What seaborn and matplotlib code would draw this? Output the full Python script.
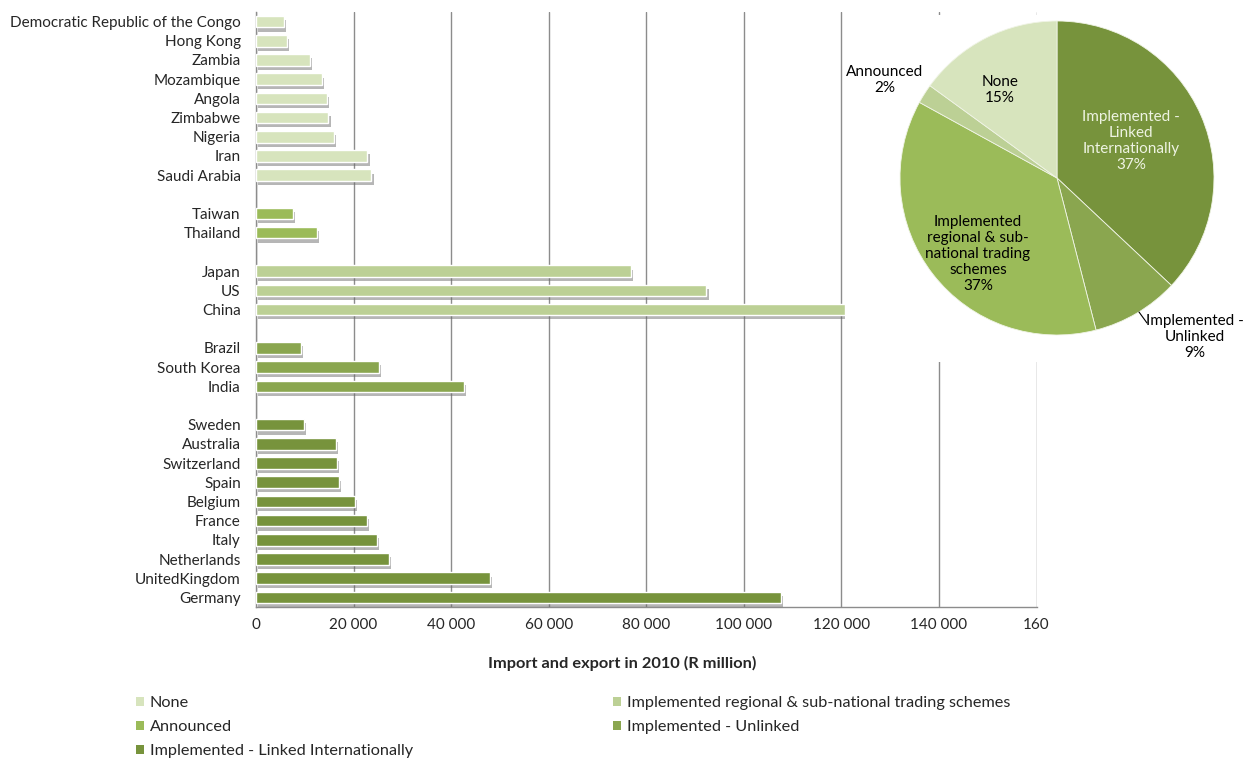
import numpy as np
import pandas as pd
import matplotlib
matplotlib.use("Agg")
import matplotlib.pyplot as plt
import matplotlib.patheffects as pe
from matplotlib.patches import Patch
from matplotlib.ticker import FixedLocator
import seaborn as sns

# ---- data -------------------------------------------------------------
none_countries = ["Democratic Republic of the Congo", "Hong Kong", "Zambia", "Mozambique",
                  "Angola", "Zimbabwe", "Nigeria", "Iran", "Saudi Arabia"]
none_values = [5800, 6430, 11150, 13600, 14500, 14850, 16000, 22850, 23670]

announced_countries = ["Taiwan", "Thailand"]
announced_values = [7570, 12500]

regional_countries = ["Japan", "US", "China"]
regional_values = [76850, 92340, 120770]

unlinked_countries = ["Brazil", "South Korea", "India"]
unlinked_values = [9190, 25280, 42640]

linked_countries = ["Sweden", "Australia", "Switzerland", "Spain", "Belgium", "France",
                    "Italy", "Netherlands", "UnitedKingdom", "Germany"]
linked_values = [9880, 16470, 16630, 17100, 20240, 22820, 24780, 27220, 47920, 107610]

status_names = ["None", "Implemented regional & sub-national trading schemes", "Announced",
                "Implemented - Unlinked", "Implemented - Linked Internationally"]
status_colors = ["#D7E4BD", "#BCD095", "#9BBB59", "#8AA64F", "#77933C"]

pie_labels = ["Implemented -\nLinked\nInternationally", "Implemented -\nUnlinked",
              "Implemented\nregional & sub-\nnational trading\nschemes", "Announced", "None"]
pie_shares = [37, 9, 37, 2, 15]
pie_colors = ["#77933C", "#8AA64F", "#9BBB59", "#BCD095", "#D7E4BD"]

x_ticks = [0, 20000, 40000, 60000, 80000, 100000, 120000, 140000, 160000]
x_tick_labels = ["0", "20 000", "40 000", "60 000", "80 000", "100 000", "120 000", "140 000", "160"]

# ---- table ------------------------------------------------------------
groups = [
    (none_countries, none_values, status_names[0]),
    (announced_countries, announced_values, status_names[2]),
    (regional_countries, regional_values, status_names[1]),
    (unlinked_countries, unlinked_values, status_names[3]),
    (linked_countries, linked_values, status_names[4]),
]
rows = []
order = []
for gi, (cs, vs, st) in enumerate(groups):
    for c, v in zip(cs, vs):
        rows.append({"country": c, "value": v, "status": st})
        order.append(c)
    if gi < len(groups) - 1:
        order.append(" " * (gi + 1))  # empty slot between groups
df = pd.DataFrame(rows)

# ---- figure -----------------------------------------------------------
sns.set_style("white")
plt.rcParams["font.family"] = ["Lato", "DejaVu Sans"]

W, H = 1247, 758
fig = plt.figure(figsize=(W / 100, H / 100), dpi=100)
ax = fig.add_axes([256 / W, 1 - 607 / H, (1036.5 - 256) / W, (607 - 12) / H])

palette = dict(zip(status_names, status_colors))
sns.barplot(data=df, y="country", x="value", hue="status", order=order,
            hue_order=status_names, palette=palette, dodge=False, width=0.6,
            orient="h", legend=False, saturation=1, ax=ax, zorder=3)

for p in ax.patches:
    p.set_edgecolor("white")
    p.set_linewidth(1.0)
    p.set_path_effects([pe.SimplePatchShadow(offset=(1.5, -3), shadow_rgbFace="#6e6e6e", alpha=0.5),
                        pe.Normal()])

ax.set_xlim(0, 160000)
ax.set_ylim(len(order) - 0.5, -0.5)
ax.set_xticks(x_ticks)
ax.set_xticklabels(x_tick_labels, fontsize=11)
ax.set_xlabel("")
ax.set_ylabel("")
ax.tick_params(axis="x", length=0, pad=8)
ax.tick_params(axis="y", which="major", length=0, labelsize=11, pad=11)
ax.yaxis.set_minor_locator(FixedLocator(np.arange(-0.5, len(order), 1.0)))
ax.tick_params(axis="y", which="minor", length=4, width=1, color="#8c8c8c", direction="out")
ax.xaxis.grid(True, color="#8c8c8c", linewidth=1, zorder=0)
ax.set_axisbelow(True)
for s in ["top", "right"]:
    ax.spines[s].set_visible(False)
for s in ["left", "bottom"]:
    ax.spines[s].set_color("#8c8c8c")
    ax.spines[s].set_linewidth(1)

fig.text(622 / W, 1 - 663 / H, "Import and export in 2010 (R million)",
         ha="center", va="center", fontsize=11.8, fontweight="bold")

# ---- legend -----------------------------------------------------------
handles = {n: Patch(facecolor=c, edgecolor="none") for n, c in zip(status_names, status_colors)}
leg_kw = dict(frameon=False, fontsize=11.7, handlelength=0.5, handleheight=0.5,
              handletextpad=0.35, labelspacing=0.62, borderaxespad=0, borderpad=0)
col1 = [status_names[0], status_names[2], status_names[4]]
col2 = [status_names[1], status_names[3]]
fig.legend([handles[n] for n in col1], col1, loc="upper left",
           bbox_to_anchor=(136 / W, 1 - 696 / H), **leg_kw)
fig.legend([handles[n] for n in col2], col2, loc="upper left",
           bbox_to_anchor=(613 / W, 1 - 696 / H), **leg_kw)

# ---- pie inset --------------------------------------------------------
px0, px1, py0, py1 = 845, W, 15, 362
pax = fig.add_axes([px0 / W, 1 - py1 / H, (px1 - px0) / W, (py1 - py0) / H])

cx, cy, r = 1057, 178, 157
wedges, _ = pax.pie(pie_shares, colors=pie_colors, startangle=90, counterclock=False,
                    radius=1, wedgeprops=dict(edgecolor="#f0f4e6", linewidth=0.6))
pax.set_frame_on(True)
pax.set_facecolor("white")
pax.set_xticks([])
pax.set_yticks([])
for s in pax.spines.values():
    s.set_visible(False)
pax.set_aspect("auto")
pax.set_xlim(-(cx - px0) / r, (px1 - cx) / r)
pax.set_ylim(-(py1 - cy) / r, (cy - py0) / r)


def to_data(x, y):
    return (x - cx) / r, (cy - y) / r


pie_text_pos = [(1131, 141), (1195, 337), (978, 254), (885, 80), (1000, 90)]
pie_text_col = ["#EEF3E2", "black", "black", "black", "black"]
for lab, sh, (tx, ty), tc in zip(pie_labels, pie_shares, pie_text_pos, pie_text_col):
    dx, dy = to_data(tx, ty)
    pax.text(dx, dy, f"{lab}\n{sh}%", ha="center", va="center", fontsize=11,
             color=tc, linespacing=1.18)

# leader line for the small outside label
lx0, ly0 = to_data(1139, 312)
lx1, ly1 = to_data(1147, 323)
pax.plot([lx0, lx1], [ly0, ly1], color="black", linewidth=0.8)

fig.savefig("out.png", dpi=100)
